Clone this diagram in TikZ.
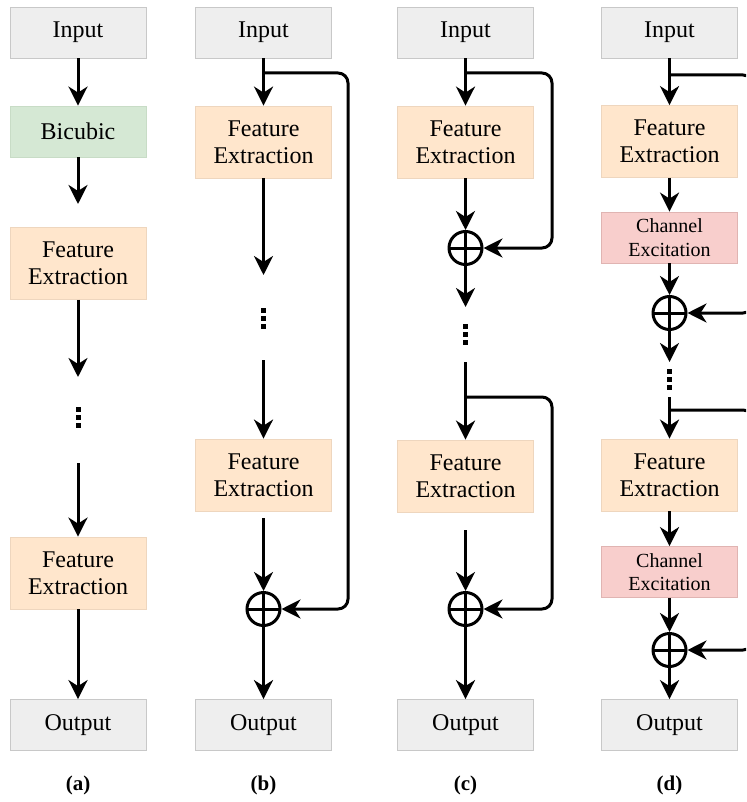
\documentclass[tikz,border=0pt]{standalone}
\usepackage{fontspec}
\setmainfont{Liberation Serif}
\usetikzlibrary{arrows.meta}
\definecolor{grayfill}{HTML}{EEEEEE}
\definecolor{grayline}{HTML}{C8C8C8}
\definecolor{greenfill}{HTML}{D5E8D4}
\definecolor{greenline}{HTML}{C8DCC6}
\definecolor{orangefill}{HTML}{FFE6CC}
\definecolor{orangeline}{HTML}{EED6BE}
\definecolor{redfill}{HTML}{F8CECC}
\definecolor{redline}{HTML}{E0B4B2}
\begin{document}
\begin{tikzpicture}[x=1pt,y=-1pt,
        box/.style={draw=grayline, line width=0.8pt, minimum width=136pt, inner sep=0pt,
            align=center, font=\fontsize{24}{27}\selectfont},
        io/.style={box, fill=grayfill, minimum height=51pt},
        bicubic/.style={box, fill=greenfill, draw=greenline, minimum height=51pt},
        feat/.style={box, fill=orangefill, draw=orangeline, minimum height=72pt},
        excite/.style={box, fill=redfill, draw=redline, minimum height=51pt,
            font=\fontsize{20}{23.5}\selectfont},
        plus/.style={circle, draw, line width=3pt, minimum size=33pt, inner sep=0pt,
            path picture={\draw[line width=3pt]
                (path picture bounding box.north) -- (path picture bounding box.south)
                (path picture bounding box.west) -- (path picture bounding box.east);}},
        arr/.style={line width=3pt, -{Stealth[length=19pt,width=19pt,inset=6pt]}},
        skip/.style={arr, rounded corners=10pt},
        caption/.style={font=\fontsize{21}{25}\selectfont\bfseries}]
            \clip (0,0) rectangle (746,802);

            \node[io] (inA) at (78,32.5) {Input};
            \node[bicubic] (bicA) at (78,131.5) {Bicubic};
            \node[feat] (feA1) at (78,263.5) {Feature\\Extraction};
            \node[feat] (feA2) at (78,573) {Feature\\Extraction};
            \node[io] (outA) at (78,725) {Output};
            \coordinate (endA1) at (78,204);
            \coordinate (endA2) at (78,377);
            \coordinate (startA3) at (78,463);
            \draw[arr] (inA.south) -- (bicA.north);
            \draw[arr] (bicA.south) -- (endA1);
            \draw[arr] (feA1.south) -- (endA2);
            \draw[arr] (startA3) -- (feA2.north);
            \draw[arr] (feA2.south) -- (outA.north);
            \foreach \d in {-8,0,8}
                \fill (78-2.5,417.5+\d-2.5) rectangle ++(5,5);
            \node[caption] (capA) at (78,785) {(a)};

            \node[io] (inB) at (263.5,32.5) {Input};
            \node[feat] (feB1) at (263.5,142) {Feature\\Extraction};
            \node[feat] (feB2) at (263.5,475) {Feature\\Extraction};
            \node[plus] (plusB) at (263.5,609) {};
            \node[io] (outB) at (263.5,725) {Output};
            \coordinate (brB) at (263.5,73);
            \coordinate (rB) at (348,0);
            \coordinate (endB1) at (263.5,275);
            \coordinate (startB2) at (263.5,360);
            \coordinate (startB3) at (263.5,518);
            \draw[arr] (inB.south) -- (feB1.north);
            \draw[skip] (brB) -- (brB -| rB) |- (plusB.east);
            \draw[arr] (feB1.south) -- (endB1);
            \draw[arr] (startB2) -- (feB2.north);
            \draw[arr] (startB3) -- (plusB.north);
            \draw[arr] (plusB.south) -- (outB.north);
            \foreach \d in {-8,0,8}
                \fill (263.5-2.5,318.5+\d-2.5) rectangle ++(5,5);
            \node[caption] (capB) at (263.5,785) {(b)};

            \node[io] (inC) at (465.5,32.5) {Input};
            \node[feat] (feC1) at (465.5,142) {Feature\\Extraction};
            \node[plus] (plusC1) at (465.5,248) {};
            \node[feat] (feC2) at (465.5,476) {Feature\\Extraction};
            \node[plus] (plusC2) at (465.5,609) {};
            \node[io] (outC) at (465.5,725) {Output};
            \coordinate (brC1) at (465.5,73);
            \coordinate (brC2) at (465.5,397);
            \coordinate (rC) at (552,0);
            \coordinate (endC1) at (465.5,307);
            \coordinate (startC2) at (465.5,362);
            \coordinate (startC3) at (465.5,530);
            \draw[arr] (inC.south) -- (feC1.north);
            \draw[skip] (brC1) -- (brC1 -| rC) |- (plusC1.east);
            \draw[arr] (feC1.south) -- (plusC1.north);
            \draw[arr] (plusC1.south) -- (endC1);
            \draw[arr] (startC2) -- (feC2.north);
            \draw[skip] (brC2) -- (brC2 -| rC) |- (plusC2.east);
            \draw[arr] (startC3) -- (plusC2.north);
            \draw[arr] (plusC2.south) -- (outC.north);
            \foreach \d in {-8,0,8}
                \fill (465.5-2.5,334+\d-2.5) rectangle ++(5,5);
            \node[caption] (capC) at (465.5,785) {(c)};

            \node[io] (inD) at (669.5,32.5) {Input};
            \node[feat] (feD1) at (669.5,141.5) {Feature\\Extraction};
            \node[excite] (ceD1) at (669.5,237.5) {Channel\\Excitation};
            \node[plus] (plusD1) at (669.5,313) {};
            \node[feat] (feD2) at (669.5,475) {Feature\\Extraction};
            \node[excite] (ceD2) at (669.5,572) {Channel\\Excitation};
            \node[plus] (plusD2) at (669.5,650) {};
            \node[io] (outD) at (669.5,725) {Output};
            \coordinate (brD1) at (669.5,75);
            \coordinate (brD2) at (669.5,410);
            \coordinate (rD) at (753,0);
            \coordinate (endD1) at (669.5,362);
            \coordinate (startD2) at (669.5,397);
            \draw[arr] (inD.south) -- (feD1.north);
            \draw[skip] (brD1) -- (brD1 -| rD) |- (plusD1.east);
            \draw[arr] (feD1.south) -- (ceD1.north);
            \draw[arr] (ceD1.south) -- (plusD1.north);
            \draw[arr] (plusD1.south) -- (endD1);
            \draw[arr] (startD2) -- (feD2.north);
            \draw[skip] (brD2) -- (brD2 -| rD) |- (plusD2.east);
            \draw[arr] (feD2.south) -- (ceD2.north);
            \draw[arr] (ceD2.south) -- (plusD2.north);
            \draw[arr] (plusD2.south) -- (outD.north);
            \foreach \d in {-8,0,8}
                \fill (669.5-2.5,379+\d-2.5) rectangle ++(5,5);
            \node[caption] (capD) at (669.5,785) {(d)};
        \end{tikzpicture}
\end{document}
